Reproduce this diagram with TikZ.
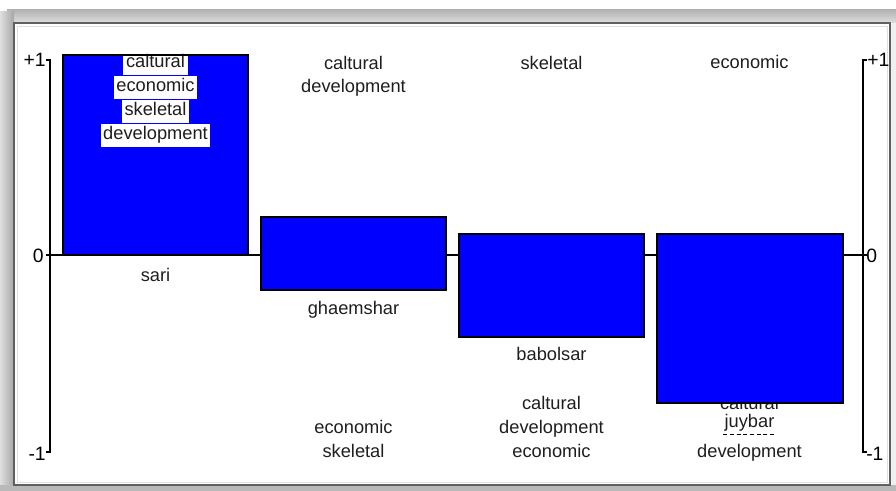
\documentclass[tikz,border=0pt]{standalone}
\usepackage{fontspec}
\setmainfont{Liberation Sans}
\usepackage{xcolor}
\definecolor{barblue}{RGB}{0,0,255}
\definecolor{framegray}{RGB}{96,96,96}
\definecolor{inkgray}{RGB}{30,30,30}
\tikzset{
  lbl/.style={anchor=base, inner sep=0.75pt, text=inkgray, font=\fontsize{13.7}{16}\selectfont},
  boxlbl/.style={lbl, fill=white, inner sep=2pt, text height=10pt, text depth=3pt},
  axlbl/.style={lbl, text=black, font=\fontsize{14.5}{16}\selectfont},
  barfill/.style={fill=barblue, draw=black, line width=2pt},
  barline/.style={draw=black, line width=2pt},
  axline/.style={draw=black, line width=0.9pt},
}

\begin{document}
\begin{tikzpicture}[x=0.75pt,y=0.75pt,yscale=-1,xscale=1]
        \useasboundingbox (0,0) rectangle (896,491);

        %Shape: Window frame
        \shade [top color=gray!60, bottom color=gray!25] (7,10) rectangle (896,23) ;
        \shade [left color=gray!25, right color=gray!70] (0,12) rectangle (14,491) ;
        \fill [gray!55] (0,485) rectangle (896,491) ;
        \fill [gray!12] (890,23) rectangle (896,485) ;
        \draw [framegray, line width=1.2pt] (14,23) rectangle (890,485) ;
        \draw [gray!25] (17,26) rectangle (887,482) ;

        %Shape: Zero line
        \draw [axline] (46,255) -- (867,255) ;
        %Shape: Left axis
        \draw [axline] (46,60) -- (50,60) -- (50,452) -- (46,452) ;
        %Shape: Right axis
        \draw [axline] (867,60) -- (863,60) -- (863,452) -- (867,452) ;

        % Axis labels
        \node [axlbl, anchor=base east] (lp1) at (47,67) {+1};
        \node [axlbl, anchor=base east] (l0) at (45,263) {0};
        \node [axlbl, anchor=base east] (lm1) at (47,460) {-1};
        \node [axlbl, anchor=base west] (rp1) at (866,67) {+1};
        \node [axlbl, anchor=base west] (r0) at (865,263) {0};
        \node [axlbl, anchor=base west] (rm1) at (865,460) {-1};

        % Text Node (hidden behind the juybar bar)
        \node [lbl] (jcal) at (749.5,410) {caltural};

        %Shape: Bars
        \draw [barfill] (63,55) rectangle (248,255) ;
        \draw [barfill] (261,217) rectangle (446,290) ;
        \draw [barfill] (459,234) rectangle (644,337) ;
        \draw [barfill] (657,234) rectangle (843,403) ;

        % Text Node: inside sari bar
        \node [boxlbl] (scal) at (155.5,68) {caltural};
        \node [boxlbl] (seco) at (155.5,92) {economic};
        \node [boxlbl] (sske) at (155.5,116) {skeletal};
        \node [boxlbl] (sdev) at (155.5,140) {development};
        \draw [barline] (63,55) -- (248,55) ;

        % Text Node: upper labels
        \node [lbl] (gcal) at (353.5,70) {caltural};
        \node [lbl] (gdev) at (353.5,93) {development};
        \node [lbl] (bske) at (551.5,70) {skeletal};
        \node [lbl] (jeco) at (749.5,69) {economic};

        % Text Node: bar names
        \node [lbl] (sari) at (155.5,282) {sari};
        \node [lbl] (ghaemshar) at (353.5,315) {ghaemshar};
        \node [lbl] (babolsar) at (551.5,361) {babolsar};
        \node [lbl] (juybar) at (749.5,428) {juybar};
        \draw [dash pattern=on 3pt off 2pt, line width=0.9pt] ([yshift=1pt]juybar.south west) -- ([yshift=1pt]juybar.south east) ;

        % Text Node: lower labels
        \node [lbl] (geco) at (353.5,434) {economic};
        \node [lbl] (gske) at (353.5,457) {skeletal};
        \node [lbl] (bcal) at (551.5,410) {caltural};
        \node [lbl] (bdev) at (551.5,434) {development};
        \node [lbl] (beco) at (551.5,457) {economic};
        \node [lbl] (jdev) at (749.5,457) {development};

\end{tikzpicture}
\end{document}
